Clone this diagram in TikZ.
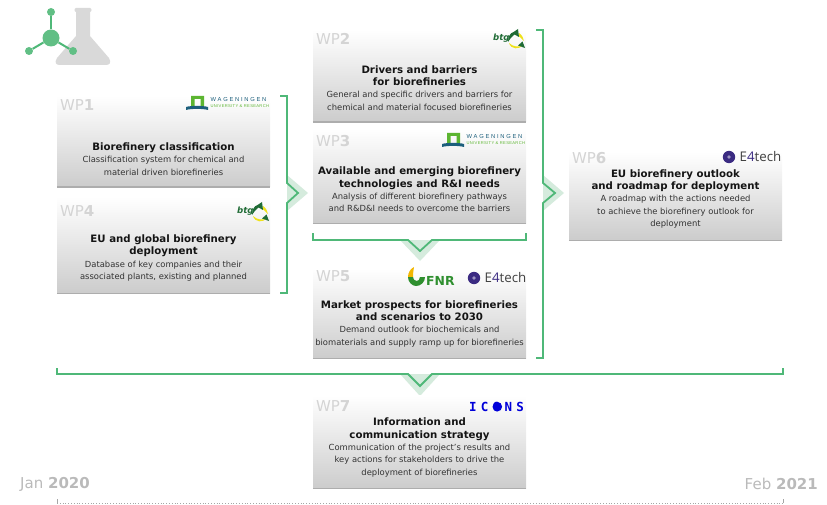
\documentclass[tikz,border=0pt]{standalone}
\usepackage{fontspec}
\usepackage{xcolor}
\setmainfont{DejaVu Sans}
\newfontfamily\logofont{Open Sans}
\newfontfamily\wurfont[LetterSpace=30]{Liberation Sans}
\newfontfamily\wursubfont[LetterSpace=8]{Liberation Sans}
\newfontfamily\iconsfont[LetterSpace=34]{DejaVu Sans Mono}
\usetikzlibrary{shapes,arrows}
\definecolor{wpgreen}{HTML}{4FB878}
\definecolor{wppale}{HTML}{D5EBDD}
\definecolor{wpgrey}{HTML}{D4D4D4}
\definecolor{wurblue}{HTML}{1C5F7C}
\definecolor{wurgreen}{HTML}{5CB531}
\definecolor{btgdark}{HTML}{1F6B35}
\definecolor{btgyellow}{HTML}{EFE21A}
\definecolor{fnrgreen}{HTML}{2F8F2F}
\definecolor{fnryellow}{HTML}{F2B600}
\definecolor{eviolet}{HTML}{3B2B82}
\tikzstyle{wpbox} = [rectangle,minimum width=213pt,inner sep=0pt,top color=white,middle color=black!6,bottom color=black!20,draw=none]
\tikzstyle{wpbase} = [line width=1.4pt,color=black!32]
\tikzstyle{wplabel} = [anchor=west,inner sep=0pt,text=wpgrey,font=\fontsize{15}{15}\selectfont]
\tikzstyle{wptext} = [anchor=south,inner sep=0pt,align=center,text=black!80,font=\fontsize{8.4}{12.4}\selectfont]
\tikzstyle{bracket} = [line width=1.8pt,color=wpgreen,line join=miter]
\tikzstyle{chevron} = [fill=wppale,draw=none]
\tikzstyle{datelabel} = [inner sep=0pt,text=black!27,font=\fontsize{15}{15}\selectfont]
\tikzstyle{atom} = [circle,fill=wpgreen!90,draw=none,inner sep=0pt]
\newcommand{\wptitle}[1]{{\fontsize{10.2}{12.4}\selectfont\bfseries\textcolor{black!92}{#1}}}
\tikzset{
  pics/wurlogo/.style={code={
    \fill [wurgreen,even odd rule] (5,0) rectangle (18,11) (8.5,3) rectangle (14.5,11);
    \fill [wurblue] (0,11) .. controls (5,9.5) and (17,9.5) .. (22,11) -- (22,14) .. controls (17,12.5) and (5,12.5) .. (0,14) -- cycle;
    \node (-top) [anchor=west,inner sep=0pt,text=wurblue,font=\wurfont\fontsize{5.8}{6}\selectfont] at (24.5,3.3) {WAGENINGEN};
    \node (-sub) [anchor=west,inner sep=0pt,text=wurgreen,font=\wursubfont\fontsize{4.1}{4}\selectfont] at (24.5,9.8) {UNIVERSITY \& RESEARCH};
  }},
  pics/btglogo/.style={code={
    \node (-name) [anchor=west,inner sep=0pt,text=btgdark,font=\fontsize{8.6}{9}\selectfont\bfseries\itshape] at (0,9.5) {btg};
    \fill [btgyellow] (16,14) .. controls (20,18) and (26,18.5) .. (30,16) .. controls (26,21) and (18,20.5) .. cycle;
    \fill [btgyellow] (26,4) .. controls (29,6) and (30.5,9) .. (31,12) .. controls (29,10) and (27,8) .. (25.5,7) -- cycle;
    \fill [btgdark] (25,0) -- (26,8) -- (21.5,5.5) .. controls (19,7) and (17,10) .. (15,13) .. controls (15,8) and (17,4) .. (20.5,3) -- cycle;
    \fill [btgdark] (32,19) -- (25,16.5) -- (29.5,12.5) -- cycle;
  }},
  pics/etechlogo/.style={code={
    \fill [eviolet] (0,0) circle (6.2pt);
    \fill [eviolet!50!white] (0,0) circle (1.8pt);
    \node (-name) [anchor=west,inner sep=0pt,text=black!75,font=\logofont\fontsize{#1}{#1}\selectfont] at (10.5,0) {E\textcolor{eviolet}{4}tech};
  }}
}

\begin{document}
\begin{tikzpicture}[x=1pt,y=-1pt,node distance=100pt]
\useasboundingbox (0,0) rectangle (827,505);

% flask and molecule
\fill [black!15] (76,8) -- (90,8) .. controls (92,8) and (92,12) .. (90,12) -- (90,36) -- (109,58) .. controls (112,63) and (109,65) .. (106,65) -- (60,65) .. controls (56,65) and (54,63) .. (57,58) -- (76,36) -- (76,12) .. controls (74,12) and (74,8) .. (76,8) -- cycle;
\node (atomtop) [atom,minimum size=8pt] at (51,12) {};
\node (atomleft) [atom,minimum size=8pt] at (29,51) {};
\node (atomright) [atom,minimum size=8pt] at (73,51) {};
\node (atommid) [atom,minimum size=17pt] at (51,38) {};
\draw [wpgreen,line width=2pt] (atommid) -- (atomtop);
\draw [wpgreen,line width=2pt] (atommid) -- (atomleft);
\draw [wpgreen,line width=2pt] (atommid) -- (atomright);

% pale chevrons
\coordinate (join1) at (287,193);
\coordinate (join2) at (543,193);
\coordinate (join3) at (420,240);
\coordinate (join4) at (420,374);
\fill [chevron] (join1) ++(0,-18) -- ++(21,18) -- ++(-21,18) -- cycle;
\fill [chevron] (join2) ++(0,-18) -- ++(21,18) -- ++(-21,18) -- cycle;
\fill [chevron] (join3) ++(-20,0) -- ++(20,21) -- ++(20,-21) -- cycle;
\fill [chevron] (join4) ++(-20,0) -- ++(20,22) -- ++(20,-22) -- cycle;

% boxes
\node (wp1) [wpbox,minimum height=91pt] at (163.5,141.5) {};
\node (wp4) [wpbox,minimum height=96pt,below of=wp1,yshift=-3.5pt] {};
\node (wp2) [wpbox,minimum height=92pt] at (419.5,76) {};
\node (wp3) [wpbox,minimum height=95pt,below of=wp2] {};
\node (wp5) [wpbox,minimum height=90pt,below of=wp3,yshift=-37.5pt] {};
\node (wp7) [wpbox,minimum height=93pt,below of=wp5,yshift=-28.5pt] {};
\node (wp6) [wpbox,minimum height=88pt] at (675.5,196) {};
\draw [wpbase] (wp1.south west) -- (wp1.south east);
\draw [wpbase] (wp2.south west) -- (wp2.south east);
\draw [wpbase] (wp3.south west) -- (wp3.south east);
\draw [wpbase] (wp4.south west) -- (wp4.south east);
\draw [wpbase] (wp5.south west) -- (wp5.south east);
\draw [wpbase] (wp6.south west) -- (wp6.south east);
\draw [wpbase] (wp7.south west) -- (wp7.south east);

% work package numbers
\node (num1) [wplabel,xshift=3pt,yshift=-9pt] at (wp1.north west) {WP\textbf{1}};
\node (num2) [wplabel,xshift=3pt,yshift=-9pt] at (wp2.north west) {WP\textbf{2}};
\node (num3) [wplabel,xshift=3pt,yshift=-13pt] at (wp3.north west) {WP\textbf{3}};
\node (num4) [wplabel,xshift=3pt,yshift=-14pt] at (wp4.north west) {WP\textbf{4}};
\node (num5) [wplabel,xshift=3pt,yshift=-8pt] at (wp5.north west) {WP\textbf{5}};
\node (num6) [wplabel,xshift=3pt,yshift=-6pt] at (wp6.north west) {WP\textbf{6}};
\node (num7) [wplabel,xshift=3pt,yshift=-11pt] at (wp7.north west) {WP\textbf{7}};

% box texts
\node (text1) [wptext,yshift=11.5pt] at (wp1.south) {\wptitle{Biorefinery classification}\\Classification system for chemical and\\material driven biorefineries};
\node (text2) [wptext,yshift=11.5pt] at (wp2.south) {\wptitle{Drivers and barriers}\\\wptitle{for biorefineries}\\General and specific drivers and barriers for\\chemical and material focused biorefineries};
\node (text3) [wptext,yshift=11.5pt] at (wp3.south) {\wptitle{Available and emerging biorefinery}\\\wptitle{technologies and R\&I needs}\\Analysis of different biorefinery pathways\\and R\&D\&I needs to overcome the barriers};
\node (text4) [wptext,yshift=11.5pt] at (wp4.south) {\wptitle{EU and global biorefinery}\\\wptitle{deployment}\\Database of key companies and their\\associated plants, existing and planned};
\node (text5) [wptext,yshift=11.5pt] at (wp5.south) {\wptitle{Market prospects for biorefineries}\\\wptitle{and scenarios to 2030}\\Demand outlook for biochemicals and\\biomaterials and supply ramp up for biorefineries};
\node (text6) [wptext,yshift=11.5pt] at (wp6.south) {\wptitle{EU biorefinery outlook}\\\wptitle{and roadmap for deployment}\\A roadmap with the actions needed\\to achieve the biorefinery outlook for\\deployment};
\node (text7) [wptext,yshift=11.5pt] at (wp7.south) {\wptitle{Information and}\\\wptitle{communication strategy}\\Communication of the project's results and\\key actions for stakeholders to drive the\\deployment of biorefineries};

% logos
\pic (wur1) at (186,96) {wurlogo};
\pic (wur3) at (442,133) {wurlogo};
\pic (btg2) at (493,29) {btglogo};
\pic (btg4) at (237,202) {btglogo};
\pic (et5) at (474,278) {etechlogo={13.3}};
\pic (et6) at (729,157) {etechlogo={13.3}};
\fill [fnryellow] (414,267) .. controls (410,269) and (408,273) .. (408,277) -- (413,277) .. controls (413,273) and (413.5,270) .. (414,267) -- cycle;
\fill [fnrgreen] (408,277) .. controls (408,282) and (412,286) .. (416,286) .. controls (421,286) and (425,282) .. (425,277) -- (420,277) .. controls (420,280) and (418,281) .. (416.5,281) .. controls (414.5,281) and (413,279) .. (413,277) -- cycle;
\node (fnr) [anchor=west,inner sep=0pt,text=fnrgreen,font=\fontsize{12.4}{13}\selectfont\bfseries] at (426,280.5) {FNR};
\node (icons) [anchor=west,inner sep=0pt,text=blue!85!black,font=\iconsfont\bfseries\fontsize{12.5}{12.5}\selectfont] at (469,407) {ICONS};
\node (iconsdot) [circle,minimum size=9.6pt,inner sep=0pt,fill=blue!85!black] at (497.3,406.7) {};

% brackets
\coordinate (b1s) at (280,96);
\coordinate (b1e) at (280,293);
\coordinate (b2s) at (536,30);
\coordinate (b2e) at (536,358);
\coordinate (b3s) at (313,233);
\coordinate (b3e) at (526,233);
\coordinate (b4s) at (57,368);
\coordinate (b4e) at (783,368);
\coordinate (tip1) at (298,193);
\coordinate (tip2) at (555,193);
\coordinate (tip3) at (420,251);
\coordinate (tip4) at (420,386);
\draw [bracket] (b1s) -| (287,183) -- (tip1) -- (287,203) |- (b1e);
\draw [bracket] (b2s) -| (543,183) -- (tip2) -- (543,203) |- (b2e);
\draw [bracket] (b3s) |- (408,240) -- (tip3) -- (432,240) -| (b3e);
\draw [bracket] (b4s) |- (408,374) -- (tip4) -- (432,374) -| (b4e);

% time line
\node (start) [datelabel,anchor=west] at (20,484) {Jan \textbf{2020}};
\node (end) [datelabel,anchor=east] at (818,484) {Feb \textbf{2021}};
\coordinate (t1) at (57,503);
\coordinate (t2) at (783,503);
\draw [black!35,line width=0.8pt,dotted] (t1) -- (t2);
\draw [black!35,line width=0.6pt] (t1) -- ++(0,-4);
\draw [black!35,line width=0.6pt] (t2) -- ++(0,-4);
\end{tikzpicture}
\end{document}
